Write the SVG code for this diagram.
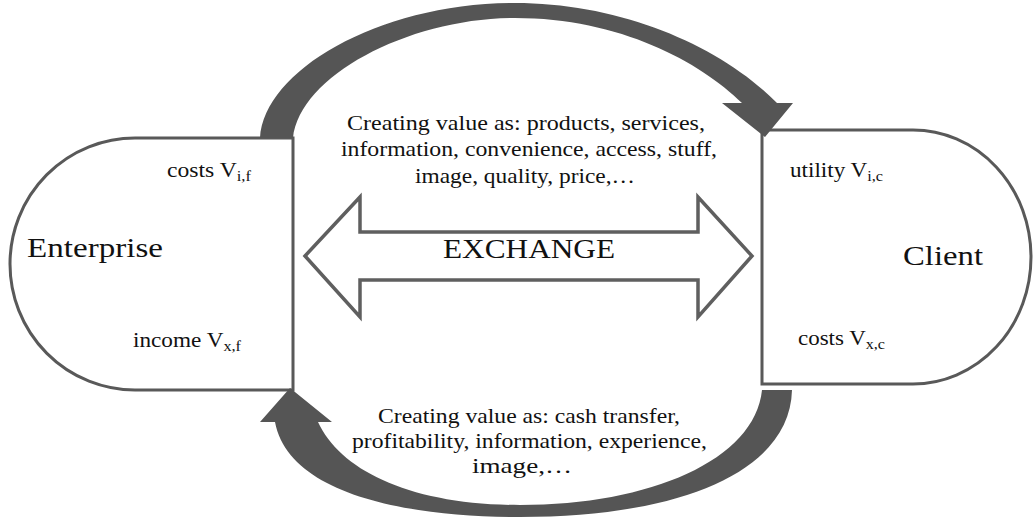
<svg xmlns="http://www.w3.org/2000/svg" width="1033" height="518" viewBox="0 0 1033 518">
  <defs>
    <style>
      .node { fill: #ffffff; stroke: #595959; stroke-width: 3; }
      .flow { fill: #555555; stroke: none; }
      .exch { fill: #ffffff; stroke: #5f5f5f; stroke-width: 3.5; stroke-linejoin: miter; }
      text { font-family: "Liberation Serif", "Times New Roman", serif; fill: #111111; }
      .big { font-size: 28px; }
      .lbl { font-size: 20px; }
      .sub { font-size: 14px; }
      .body { font-size: 21px; }
    </style>
  </defs>

  <rect width="1033" height="518" fill="#ffffff"/>

  <!-- Enterprise -->
  <g id="enterprise">
    <path class="node" d="M 293,138 L 135,138 A 125,126 0 0 0 135,390 L 293,390 Z"/>
    <text class="big" x="27" y="257" textLength="136" lengthAdjust="spacingAndGlyphs">Enterprise</text>
    <text class="lbl" x="167" y="177" textLength="84" lengthAdjust="spacingAndGlyphs">costs V<tspan class="sub" dy="4">i,f</tspan></text>
    <text class="lbl" x="133" y="347" textLength="108" lengthAdjust="spacingAndGlyphs">income V<tspan class="sub" dy="4">x,f</tspan></text>
  </g>

  <!-- Client -->
  <g id="client">
    <path class="node" d="M 762,130 L 913,130 A 118,127 0 0 1 913,384 L 762,384 Z"/>
    <text class="big" x="903" y="265" textLength="80" lengthAdjust="spacingAndGlyphs">Client</text>
    <text class="lbl" x="790" y="177" textLength="93" lengthAdjust="spacingAndGlyphs">utility V<tspan class="sub" dy="4">i,c</tspan></text>
    <text class="lbl" x="798" y="345" textLength="87" lengthAdjust="spacingAndGlyphs">costs V<tspan class="sub" dy="4">x,c</tspan></text>
  </g>

  <!-- Exchange double arrow -->
  <g id="exchange">
    <polygon class="exch" points="305,256 360,197 360,232 698,232 698,197 752,256 698,317 698,280 360,280 360,317"/>
    <text class="big" x="443" y="258" textLength="172" lengthAdjust="spacingAndGlyphs">EXCHANGE</text>
  </g>

  <!-- Value offered to the client -->
  <g id="offer-text">
    <text class="body" x="347" y="130" textLength="358" lengthAdjust="spacingAndGlyphs">Creating value as: products, services,</text>
    <text class="body" x="341" y="156" textLength="376" lengthAdjust="spacingAndGlyphs">information, convenience, access, stuff,</text>
    <text class="body" x="415" y="183" textLength="220" lengthAdjust="spacingAndGlyphs">image, quality, price,…</text>
  </g>

  <!-- Value returned to the enterprise -->
  <g id="return-text">
    <text class="body" x="378" y="423" textLength="302" lengthAdjust="spacingAndGlyphs">Creating value as: cash transfer,</text>
    <text class="body" x="352" y="448" textLength="355" lengthAdjust="spacingAndGlyphs">profitability, information, experience,</text>
    <text class="body" x="472" y="473" textLength="100" lengthAdjust="spacingAndGlyphs">image,…</text>
  </g>

  <!-- Curved flow arrows -->
  <g id="connectors">
    <path class="flow" d="M 260,138 C 264,70 380,3 515,3 C 620,3 720,45 777,103 L 793,103 L 765,137 L 722,103 L 742,103 C 700,62 620,18 515,18 C 410,18 300,75 293,138 Z"/>
    <path class="flow" d="M 275,422 L 260,422 L 290,388 L 332,422 L 318,422 C 340,470 410,505 520,505 C 650,505 755,460 762,390 L 792,390 C 790,472 680,517 520,517 C 400,517 288,492 275,422 Z"/>
  </g>
</svg>
